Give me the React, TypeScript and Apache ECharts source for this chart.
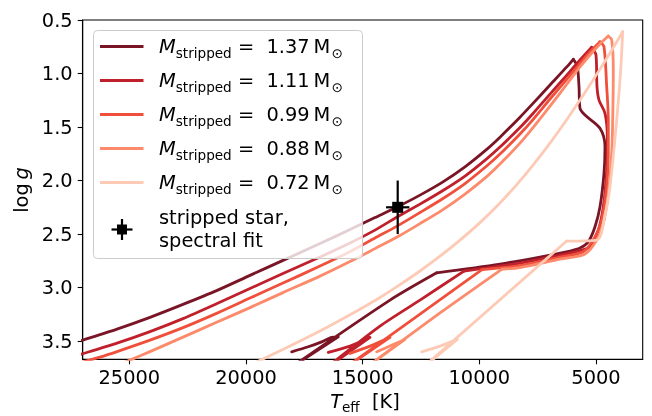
import React, { useEffect, useRef } from "react";
import * as echarts from "echarts";

// ---- data (Teff in K, log g) ----
const t137 = [18043, 17331, 16757, 16329, 16046, 18300, 13830, 11829, 9116, 7401, 6116, 5687, 5331, 5044, 4830, 4659, 4616, 4830, 5473, 5687, 5730, 5803, 5974, 6244, 6973, 7701, 8259, 9116, 9686, 10616, 11559, 12544, 13487, 14473, 15544, 16830, 18416, 19830, 21287, 22701, 24116, 25530, 26990, 28000];
const g137 = [3.600, 3.553, 3.507, 3.465, 3.460, 3.780, 3.117, 2.862, 2.780, 2.715, 2.659, 2.631, 2.572, 2.432, 2.245, 1.933, 1.684, 1.512, 1.388, 1.325, 1.123, 0.936, 0.867, 0.936, 1.107, 1.279, 1.408, 1.595, 1.709, 1.872, 2.012, 2.136, 2.243, 2.346, 2.458, 2.589, 2.746, 2.886, 3.031, 3.157, 3.278, 3.388, 3.491, 3.561];

const t111 = [16474, 15544, 14687, 16680, 14259, 12544, 10659, 8259, 6544, 5687, 5259, 4903, 4689, 4543, 4517, 4616, 4873, 4959, 5002, 5186, 5687, 6244, 6973, 7701, 8259, 9116, 9686, 10616, 11559, 12544, 13487, 14473, 15544, 16830, 18416, 19830, 21287, 22701, 24116, 25530, 26990, 28000];
const g111 = [3.606, 3.547, 3.465, 3.771, 3.360, 3.117, 2.846, 2.771, 2.696, 2.654, 2.619, 2.463, 2.245, 1.902, 1.591, 1.372, 1.248, 1.123, 0.827, 0.755, 0.874, 1.014, 1.192, 1.374, 1.505, 1.687, 1.797, 1.958, 2.093, 2.220, 2.336, 2.463, 2.584, 2.715, 2.869, 3.009, 3.154, 3.290, 3.411, 3.519, 3.617, 3.682];

const t099 = [15544, 14687, 13830, 15887, 12544, 9887, 8259, 6544, 5546, 5044, 4757, 4543, 4474, 4474, 4543, 4659, 4830, 5259, 5687, 6244, 6973, 7701, 8259, 9116, 9686, 10616, 11559, 12544, 13487, 14473, 15544, 16830, 18416, 19830, 21287, 22701, 24116, 25530, 26259, 26990, 27500];
const g099 = [3.615, 3.547, 3.465, 3.771, 3.248, 2.832, 2.794, 2.715, 2.665, 2.525, 2.369, 2.058, 1.746, 1.435, 1.123, 0.750, 0.703, 0.799, 0.907, 1.051, 1.238, 1.430, 1.565, 1.752, 1.864, 2.028, 2.168, 2.299, 2.421, 2.537, 2.664, 2.799, 2.958, 3.098, 3.243, 3.374, 3.491, 3.598, 3.650, 3.696, 3.740];

const t088 = [14400, 13744, 13187, 15009, 11687, 9030, 8259, 6544, 5473, 4971, 4689, 4474, 4329, 4286, 4260, 4329, 4474, 4830, 5259, 5687, 6244, 6973, 7701, 8259, 9116, 9686, 10616, 11559, 12544, 13487, 14473, 15544, 16830, 18416, 19830, 21287, 22701, 24116, 24900, 25530];
const g088 = [3.600, 3.537, 3.484, 3.771, 3.237, 2.827, 2.813, 2.734, 2.687, 2.556, 2.400, 2.120, 1.746, 1.435, 0.967, 0.687, 0.650, 0.724, 0.827, 0.939, 1.098, 1.304, 1.505, 1.650, 1.846, 1.963, 2.126, 2.271, 2.402, 2.523, 2.636, 2.757, 2.893, 3.047, 3.187, 3.327, 3.463, 3.598, 3.671, 3.729];

const t072 = [12471, 11687, 10946, 12544, 6257, 4971, 4616, 4402, 4114, 3943, 3857, 4316, 4830, 5559, 6244, 6973, 7701, 8387, 9116, 9973, 10830, 11687, 12544, 13401, 14259, 15544, 16830, 18116, 19273, 20109];
const g072 = [3.600, 3.547, 3.484, 3.771, 2.565, 2.556, 2.322, 2.058, 1.435, 0.967, 0.609, 0.778, 0.959, 1.206, 1.427, 1.650, 1.855, 2.035, 2.209, 2.393, 2.557, 2.707, 2.845, 2.972, 3.092, 3.254, 3.406, 3.546, 3.667, 3.751];

// index of the kink (end of the contraction line) and of the top turning point in each track
const kinkIndex = [7, 6, 5, 5, 4];
const peakIndex = [22, 19, 16, 16, 10];

const massLabels = ["1.37", "1.11", "0.99", "0.88", "0.72"];
const seriesT = [t137, t111, t099, t088, t072];
const seriesG = [g137, g111, g099, g088, g072];
const colors = ["#7a1526", "#c0202b", "#f0503b", "#fc8a6b", "#fdcab6"];

const starT = [13500];
const starG = [2.25];
const starTErr = [500];
const starGErr = [0.25];

const xTicks = [5000, 10000, 15000, 20000, 25000];
const yTicks = [0.5, 1.0, 1.5, 2.0, 2.5, 3.0, 3.5];

const FONT = "DejaVu Sans";
const FS = 19.4;
const SUB = 13.6;

export default function App() {
  const ref = useRef<HTMLDivElement>(null);
  useEffect(() => {
    if (!ref.current) return;
    const chart = echarts.init(ref.current, null, { renderer: "svg" });

    const lineSeries: any[] = [];
    seriesT.forEach((ts, i) => {
      const pts = ts.map((t, j) => [t, seriesG[i][j]]);
      const parts = [
        { data: pts.slice(0, kinkIndex[i] + 1), smooth: 0.25 },
        { data: pts.slice(kinkIndex[i], peakIndex[i] + 1), smooth: 0.3 },
        { data: pts.slice(peakIndex[i]), smooth: 0.25 },
      ];
      parts.forEach((p, k) => {
        lineSeries.push({
          type: "line",
          name: massLabels[i] + "_" + k,
          data: p.data,
          smooth: p.smooth,
          showSymbol: false,
          symbol: "none",
          clip: true,
          lineStyle: { width: 2.8, color: colors[i], cap: "round", join: "round" },
          itemStyle: { color: colors[i] },
          z: 2 + i,
        });
      });
    });

    const richMain = (extra: any = {}) => ({ fontFamily: FONT, fontSize: FS, lineHeight: 26, verticalAlign: "middle", fill: "#000", color: "#000", ...extra });
    const richSub = { fontFamily: FONT, fontSize: SUB, lineHeight: 15, verticalAlign: "bottom", fill: "#000", color: "#000" };

    const rowY = [46.5, 80.5, 114.5, 148.5, 182.5];
    const legendEls: any[] = [
      {
        type: "rect",
        shape: { x: 93.5, y: 30.5, width: 269, height: 228, r: 4 },
        style: { fill: "rgba(255,255,255,0.8)", stroke: "#cccccc", lineWidth: 1 },
        z: 100,
      },
    ];
    massLabels.forEach((m, i) => {
      legendEls.push({
        type: "line",
        shape: { x1: 100, y1: rowY[i], x2: 143.5, y2: rowY[i] },
        style: { stroke: colors[i], lineWidth: 2.8 },
        z: 101,
      });
      legendEls.push({
        type: "text",
        x: 159,
        y: rowY[i],
        z: 101,
        style: {
          text: `{m|M}{s|stripped}{n| =  ${m}\u2009M}{o|\u200a\u2299}`,
          align: "left",
          verticalAlign: "middle",
          rich: { m: richMain({ fontStyle: "italic" }), s: richSub, n: richMain(), o: richSub },
        },
      });
    });
    // errorbar legend icon
    legendEls.push(
      { type: "line", shape: { x1: 111.5, y1: 229.5, x2: 132.5, y2: 229.5 }, style: { stroke: "#000", lineWidth: 2.2 }, z: 101 },
      { type: "line", shape: { x1: 122, y1: 219, x2: 122, y2: 240 }, style: { stroke: "#000", lineWidth: 2.2 }, z: 101 },
      { type: "rect", shape: { x: 117, y: 224.5, width: 10, height: 10 }, style: { fill: "#000" }, z: 101 },
      {
        type: "text",
        x: 159,
        y: 229,
        z: 101,
        style: {
          text: "stripped star,\nspectral fit",
          fontFamily: FONT,
          fontSize: FS,
          lineHeight: 22.5,
          fill: "#000",
          align: "left",
          verticalAlign: "middle",
        },
      }
    );

    const option: any = {
      animation: false,
      textStyle: { fontFamily: FONT },
      grid: {
        left: 82.7,
        right: 9.3,
        top: 20,
        bottom: 56.7,
        show: true,
        borderColor: "#000",
        borderWidth: 1.1,
        backgroundColor: "transparent",
      },
      xAxis: {
        type: "value",
        inverse: true,
        min: 3000,
        max: 27000,
        position: "bottom",
        axisLine: { show: true, onZero: false, lineStyle: { color: "#000", width: 1.1 } },
        axisTick: { show: true, inside: false, length: 5, lineStyle: { color: "#000", width: 1.1 }, customValues: xTicks },
        axisLabel: {
          show: true,
          customValues: xTicks,
          color: "#000",
          fontFamily: FONT,
          fontSize: FS,
          margin: 9,
          formatter: (v: number) => (xTicks.includes(v) ? String(v) : ""),
        },
        splitLine: { show: false },
      },
      yAxis: {
        type: "value",
        inverse: true,
        min: 0.5,
        max: 3.67,
        interval: 0.5,
        position: "left",
        axisLine: { show: true, onZero: false, lineStyle: { color: "#000", width: 1.1 } },
        axisTick: { show: true, inside: false, length: 5, lineStyle: { color: "#000", width: 1.1 }, customValues: yTicks },
        axisLabel: {
          show: true,
          customValues: yTicks,
          color: "#000",
          fontFamily: FONT,
          fontSize: FS,
          margin: 10,
          formatter: (v: number) => (Math.abs(v * 2 - Math.round(v * 2)) < 1e-6 ? v.toFixed(1) : ""),
        },
        splitLine: { show: false },
      },
      series: [
        ...lineSeries,
        {
          type: "custom",
          name: "stripped star, spectral fit",
          data: starT.map((t, i) => [t, starG[i], starTErr[i], starGErr[i]]),
          encode: { x: 0, y: 1 },
          z: 20,
          renderItem: (params: any, api: any) => {
            const x = api.value(0);
            const y = api.value(1);
            const xe = api.value(2);
            const ye = api.value(3);
            const c = api.coord([x, y]);
            const l = api.coord([x - xe, y]);
            const r = api.coord([x + xe, y]);
            const t = api.coord([x, y - ye]);
            const b = api.coord([x, y + ye]);
            return {
              type: "group",
              children: [
                { type: "line", shape: { x1: l[0], y1: l[1], x2: r[0], y2: r[1] }, style: { stroke: "#000", lineWidth: 2.2 } },
                { type: "line", shape: { x1: t[0], y1: t[1], x2: b[0], y2: b[1] }, style: { stroke: "#000", lineWidth: 2.2 } },
                { type: "rect", shape: { x: c[0] - 5.5, y: c[1] - 5.5, width: 11, height: 11 }, style: { fill: "#000" } },
              ],
            };
          },
        },
      ],
      graphic: [
        ...legendEls,
        {
          type: "text",
          x: 365,
          y: 401,
          style: {
            text: "{i|T}{s|eff}{n|  [K]}",
            align: "center",
            verticalAlign: "middle",
            rich: { i: richMain({ fontStyle: "italic" }), s: richSub, n: richMain() },
          },
        },
        {
          type: "text",
          x: 21,
          y: 190,
          rotation: Math.PI / 2,
          style: {
            text: "{n|log\u2009}{i|g}",
            align: "center",
            verticalAlign: "middle",
            rich: { n: richMain(), i: richMain({ fontStyle: "italic" }) },
          },
        },
      ],
    };
    chart.setOption(option);
    return () => chart.dispose();
  }, []);
  return <div ref={ref} style={{ position: "fixed", left: 0, top: 0, width: 652, height: 416 }} />;
}
